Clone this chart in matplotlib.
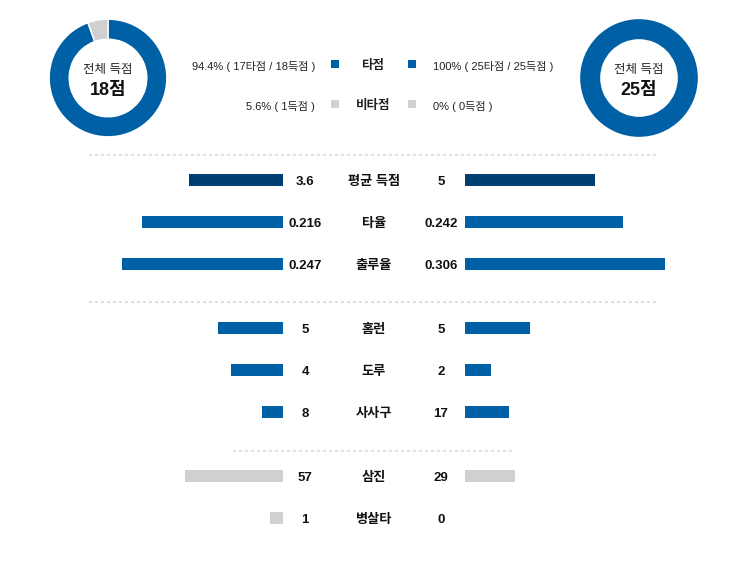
import matplotlib.pyplot as plt

plt.rcParams['font.family'] = ['Liberation Sans', 'Noto Sans CJK KR', 'DejaVu Sans']

# 전체 득점 (타점 / 비타점)
total_runs = [18, 25]
rbi_runs = [17, 25]
non_rbi_runs = [1, 0]
rbi_text = ['94.4% ( 17타점 / 18득점 )', '100% ( 25타점 / 25득점 )']
non_rbi_text = ['5.6% ( 1득점 )', '0% ( 0득점 )']

# 비교 항목
labels = ['평균 득점', '타율', '출루율', '홈런', '도루', '사사구', '삼진', '병살타']
left_vals = [3.6, 0.216, 0.247, 5, 4, 8, 57, 1]
right_vals = [5, 0.242, 0.306, 5, 2, 17, 29, 0]
left_text = ['3.6', '0.216', '0.247', '5', '4', '8', '57', '1']
right_text = ['5', '0.242', '0.306', '5', '2', '17', '29', '0']
row_max = [7.7, 0.306, 0.306, 15.4, 15.4, 77, 116, 15.4]

BLUE = '#0060a5'
NAVY = '#003d73'
GREY = '#d0d0d0'
bar_colors = [NAVY, BLUE, BLUE, BLUE, BLUE, BLUE, GREY, GREY]
row_y = [180, 222, 264, 328, 370, 412, 476, 518]

W, H = 743, 572
fig = plt.figure(figsize=(W / 100, H / 100), dpi=100)
ax = fig.add_axes([0, 0, 1, 1])
ax.set_xlim(0, W)
ax.set_ylim(H, 0)
ax.axis('off')

# 도넛 차트
for cx, total, rbi, non_rbi in zip([108, 639], total_runs, rbi_runs, non_rbi_runs):
    r = 60
    pax = fig.add_axes([(cx - r) / W, 1 - (78 + r) / H, 2 * r / W, 2 * r / H])
    vals = [v for v in [rbi, non_rbi] if v > 0]
    cols = [c for v, c in zip([rbi, non_rbi], [BLUE, GREY]) if v > 0]
    pax.pie(vals, colors=cols, startangle=90, counterclock=False, radius=1,
            wedgeprops=dict(width=0.34, edgecolor='white', linewidth=1 if len(vals) > 1 else 0))
    pax.set_xlim(-1.02, 1.02)
    pax.set_ylim(-1.02, 1.02)
    pax.set_aspect('equal')
    ax.text(cx, 70, '전체 득점', ha='center', va='center', fontsize=9, color='#222222')
    ax.text(cx, 90, f'{total}점', ha='center', va='center', fontsize=13, fontweight='bold', color='#111111')

# 타점 / 비타점 범례
for y, name, col, txt in [(64, '타점', BLUE, rbi_text), (104, '비타점', GREY, non_rbi_text)]:
    ax.text(315, y + 2, txt[0], ha='right', va='center', fontsize=8, color='#222222')
    ax.text(433, y + 2, txt[1], ha='left', va='center', fontsize=8, color='#222222')
    ax.text(373, y + 2, name, ha='center', va='center', fontsize=9, fontweight='bold', color='#222222')
    ax.scatter([335, 412], [y, y], marker='s', s=30, color=col, linewidths=0)

# 점선 구분선
for x0, x1, y in [(89, 656, 155), (89, 656, 302), (233, 513, 451)]:
    ax.plot([x0, x1], [y, y], color='#e0e0e0', lw=1.44, linestyle=(0, (1.5, 1.5)))

# 비교 막대
for i, lab in enumerate(labels):
    y = row_y[i]
    lw = left_vals[i] / row_max[i] * 200
    rw = right_vals[i] / row_max[i] * 200
    ax.barh(y, -lw, left=283, height=12, color=bar_colors[i])
    ax.barh(y, rw, left=465, height=12, color=bar_colors[i])
    ty = y + 2
    ax.text(305, ty, left_text[i], ha='center', va='center', fontsize=9.5, fontweight='bold', color='#111111')
    ax.text(441, ty, right_text[i], ha='center', va='center', fontsize=9.5, fontweight='bold', color='#111111')
    ax.text(374, ty, lab, ha='center', va='center', fontsize=9.5, fontweight='bold', color='#111111')

fig.savefig('out.png', dpi=100)
